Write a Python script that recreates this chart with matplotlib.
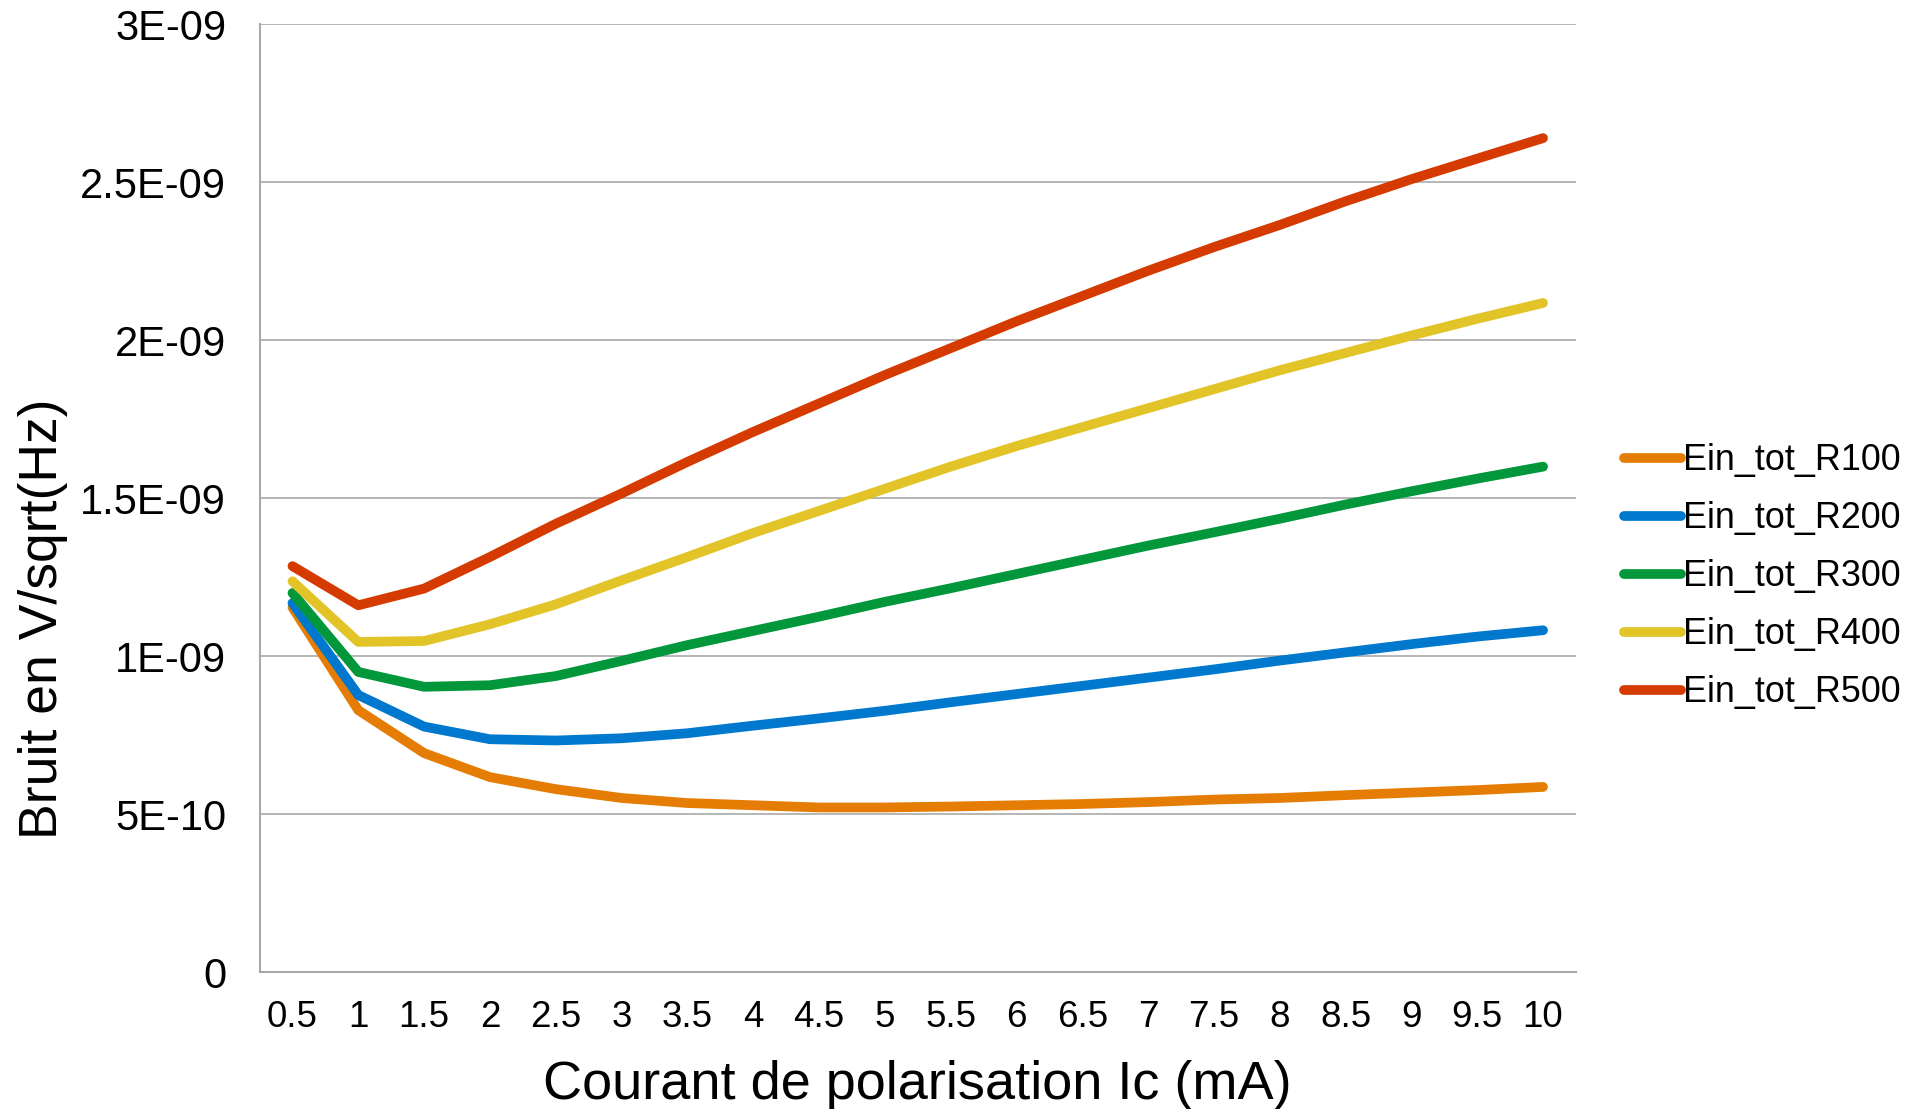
import matplotlib
matplotlib.use("Agg")
import matplotlib.pyplot as plt

plt.rcParams['font.family'] = ['Liberation Sans', 'DejaVu Sans']

# courant de polarisation (mA), axe categoriel
ic = ['0.5', '1', '1.5', '2', '2.5', '3', '3.5', '4', '4.5', '5',
      '5.5', '6', '6.5', '7', '7.5', '8', '8.5', '9', '9.5', '10']

# bruit total ramene en entree (x1e-9 V/sqrt(Hz))
r100 = [1.154, 0.829, 0.693, 0.617, 0.579, 0.551, 0.535, 0.528, 0.521, 0.521,
        0.524, 0.528, 0.532, 0.538, 0.546, 0.551, 0.560, 0.568, 0.576, 0.586]
r200 = [1.168, 0.877, 0.777, 0.737, 0.733, 0.740, 0.756, 0.780, 0.803, 0.827,
        0.854, 0.880, 0.906, 0.932, 0.958, 0.986, 1.012, 1.038, 1.062, 1.082]
r300 = [1.200, 0.950, 0.903, 0.908, 0.937, 0.985, 1.035, 1.080, 1.125, 1.172,
        1.215, 1.260, 1.305, 1.350, 1.392, 1.435, 1.480, 1.522, 1.562, 1.600]
r400 = [1.237, 1.045, 1.048, 1.101, 1.164, 1.240, 1.314, 1.390, 1.460, 1.530,
        1.600, 1.665, 1.725, 1.785, 1.845, 1.905, 1.960, 2.015, 2.068, 2.118]
r500 = [1.285, 1.161, 1.214, 1.314, 1.419, 1.515, 1.615, 1.710, 1.800, 1.890,
        1.975, 2.060, 2.140, 2.220, 2.295, 2.365, 2.440, 2.510, 2.575, 2.640]

series = {
    'Ein_tot_R100': (r100, '#E57D04'),
    'Ein_tot_R200': (r200, '#0078CE'),
    'Ein_tot_R300': (r300, '#01973A'),
    'Ein_tot_R400': (r400, '#E3C428'),
    'Ein_tot_R500': (r500, '#D53B00'),
}

yticks = [0, 0.5e-9, 1e-9, 1.5e-9, 2e-9, 2.5e-9, 3e-9]
yticklabels = ['0', '5E-10', '1E-09', '1.5E-09', '2E-09', '2.5E-09', '3E-09']

fig = plt.figure(figsize=(19.1, 11.09), dpi=100)
ax = fig.add_axes([0.1359, 0.1235, 0.6892, 0.8545])

x = range(len(ic))
for name, (vals, col) in series.items():
    ax.plot(x, [v * 1e-9 for v in vals], color=col, lw=7, label=name,
            solid_capstyle='round', solid_joinstyle='round')

ax.set_xlim(-0.5, len(ic) - 0.5)
ax.set_ylim(0, 3e-9)
ax.set_xticks(list(x))
ax.set_xticklabels(ic, fontsize=26.5)
ax.set_yticks(yticks)
ax.set_yticklabels(yticklabels, fontsize=30)
ax.tick_params(axis='both', length=0)
ax.tick_params(axis='x', pad=20)
ax.tick_params(axis='y', pad=24)

ax.grid(axis='y', color='#b0b0b0', lw=1.3)
ax.set_axisbelow(True)
for s in ['top', 'right']:
    ax.spines[s].set_visible(False)
for s in ['left', 'bottom']:
    ax.spines[s].set_color('#a8a8a8')
    ax.spines[s].set_linewidth(1.5)

ax.set_xlabel('Courant de polarisation Ic (mA)', fontsize=39, va='center')
ax.xaxis.set_label_coords(0.5, -0.119)
ax.set_ylabel('Bruit en V/sqrt(Hz)', fontsize=38.5, va='center', ha='center')
ax.yaxis.set_label_coords(-0.1645, 0.3725)

fig.legend(loc='center left', bbox_to_anchor=(0.850, 0.480),
           bbox_transform=fig.transFigure, frameon=False, fontsize=25.8,
           borderpad=0, borderaxespad=0, handlelength=1.6,
           handletextpad=0.05, labelspacing=0.64)

fig.savefig('out.png', dpi=100, facecolor='white')
